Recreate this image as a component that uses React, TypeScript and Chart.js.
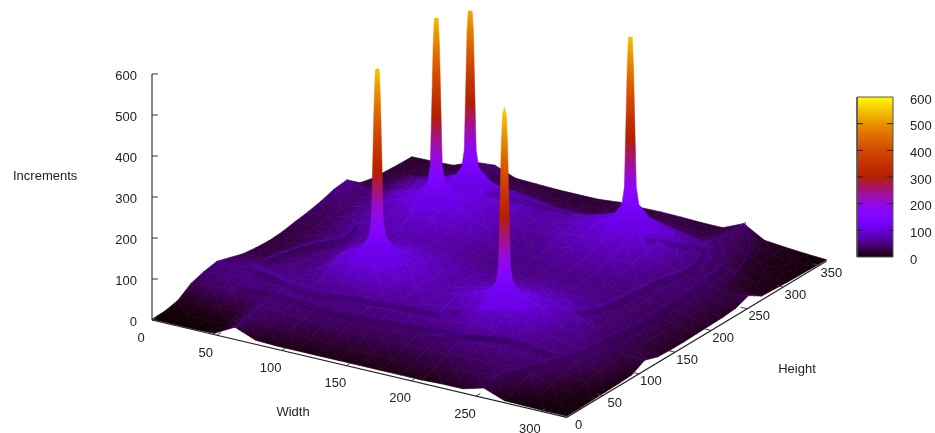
import React, { useEffect, useRef } from "react";
import { Chart, registerables } from "chart.js";

Chart.register(...registerables);

const widths = [0, 16, 32, 48, 64, 80, 96, 112, 128, 144, 160, 176, 192, 208, 224, 240, 256, 272, 288, 304, 320];
const heights = [360, 342, 324, 306, 288, 270, 252, 234, 216, 198, 180, 162, 144, 126, 108, 90, 72, 54, 36, 18, 0];
const surface = [
  [17, 18, 20, 40, 44, 24, 22, 20, 20, 20, 25, 24, 25, 24, 22, 22, 44, 15, 10, 6, 3],
  [18, 20, 24, 30, 34, 28, 28, 24, 22, 22, 24, 24, 26, 28, 26, 24, 40, 22, 10, 7, 4],
  [20, 24, 28, 32, 36, 36, 36, 34, 32, 30, 30, 32, 36, 38, 36, 34, 44, 30, 11, 8, 5],
  [22, 28, 48, 60, 68, 76, 76, 70, 62, 54, 54, 62, 72, 80, 76, 66, 54, 36, 12, 9, 6],
  [30, 32, 52, 72, 92, 112, 112, 94, 76, 68, 68, 80, 96, 114, 110, 88, 58, 44, 26, 10, 8],
  [56, 42, 52, 72, 90, 108, 110, 92, 78, 66, 68, 80, 94, 114, 102, 86, 58, 44, 32, 12, 10],
  [52, 44, 54, 80, 96, 114, 106, 88, 74, 64, 64, 74, 82, 88, 84, 76, 56, 44, 38, 22, 30],
  [42, 40, 52, 78, 96, 114, 106, 88, 74, 62, 54, 62, 70, 72, 72, 66, 52, 44, 38, 24, 18],
  [35, 34, 48, 66, 78, 88, 88, 78, 70, 60, 54, 54, 58, 60, 58, 56, 50, 44, 36, 24, 15],
  [30, 30, 42, 62, 72, 74, 74, 70, 62, 56, 52, 52, 52, 52, 52, 52, 48, 42, 34, 24, 14],
  [24, 28, 40, 50, 60, 68, 72, 70, 66, 60, 54, 52, 54, 56, 54, 52, 48, 40, 32, 24, 13],
  [22, 26, 38, 46, 60, 78, 84, 84, 76, 68, 62, 60, 64, 66, 64, 60, 52, 40, 36, 24, 12],
  [24, 28, 38, 46, 60, 90, 104, 100, 88, 74, 66, 68, 74, 78, 78, 72, 54, 42, 36, 24, 12],
  [28, 30, 42, 48, 56, 96, 115, 115, 92, 76, 66, 76, 88, 96, 94, 84, 72, 46, 36, 24, 14],
  [38, 40, 48, 50, 54, 86, 96, 96, 84, 74, 68, 80, 96, 116, 116, 92, 60, 50, 38, 26, 25],
  [48, 48, 56, 52, 54, 60, 68, 68, 66, 60, 62, 68, 76, 88, 86, 72, 58, 50, 42, 26, 8],
  [42, 46, 50, 42, 56, 54, 52, 52, 54, 54, 54, 56, 60, 70, 66, 58, 52, 44, 36, 22, 6],
  [32, 38, 42, 42, 46, 46, 44, 44, 42, 40, 42, 44, 48, 52, 50, 48, 44, 40, 28, 14, 5],
  [10, 12, 16, 18, 44, 40, 36, 34, 32, 30, 30, 30, 32, 34, 36, 38, 38, 34, 18, 8, 4],
  [3, 4, 4, 6, 40, 26, 22, 18, 16, 16, 16, 16, 18, 20, 24, 30, 34, 16, 8, 5, 3],
  [2, 2, 2, 3, 30, 10, 8, 8, 8, 8, 8, 8, 8, 8, 10, 10, 24, 5, 4, 3, 3],
];

const peakW = [102, 84, 89, 214, 212];
const peakH = [129, 243, 281, 104, 282];
const peakTop = [553, 541, 522, 568, 549];
const profileZ = [73, 92, 110, 141, 183, 312, 476, 549];
const profileR = [15, 12, 10.5, 4.7, 3.3, 2.6, 1.75, 1.1];
const SPIKE_FOOT_SHADE = 108;

const ridgeWidths = [
  [34, 59, 115, 186, 240],
  [28, 81, 127, 176],
  [32, 41, 54, 54],
  [179, 236, 260, 267, 273, 274, 263],
  [258, 268, 283, 289, 290, 287, 287],
  [191, 228, 276],
  [257, 285, 301],
  [247, 263, 274],
  [82, 115, 156],
  [215, 263],
];
const ridgeHeights = [
  [57, 61, 54, 65, 79],
  [85, 69, 78, 82],
  [97, 140, 172, 187],
  [91, 124, 153, 206, 207, 257, 293],
  [0, 42, 84, 102, 165, 239, 280],
  [42, 68, 74],
  [360, 316, 260],
  [336, 310, 271],
  [314, 313, 303],
  [298, 293],
];
const ridgeValues = [
  [45, 45, 45, 45, 45],
  [60, 60, 60, 60],
  [60, 60, 60, 85],
  [60, 60, 60, 60, 75, 60, 60],
  [40, 40, 40, 50, 40, 40, 50],
  [55, 55, 35],
  [40, 40, 40],
  [30, 30, 30],
  [45, 45, 45],
  [45, 60],
];

const widthTicks = [0, 50, 100, 150, 200, 250, 300];
const heightTicks = [0, 50, 100, 150, 200, 250, 300, 350];
const zTicks = [0, 100, 200, 300, 400, 500, 600];

const W_MAX = 320;
const H_MAX = 360;
const Z_MAX = 600;

const vx = (w: number, h: number) => 152 + 1.296 * w + 0.722 * h;
const vy = (w: number, h: number, z: number) => 320 + 0.304 * w - 0.434 * h - 0.41 * z;
const pt = (w: number, h: number, z: number) => ({ x: vx(w, h), y: vy(w, h, z) });
const depth = (w: number, h: number) => 0.304 * w - 0.434 * h;

const px = (scale: any, v: number) => {
  const p = scale ? scale.getPixelForValue(v) : NaN;
  return Number.isFinite(p) ? p : v;
};

function pal(z: number, alpha = 1) {
  const t = Math.max(0, Math.min(1, z / Z_MAX));
  const r = Math.round(255 * Math.sqrt(t));
  const g = Math.round(255 * t * t * t);
  const b = Math.round(255 * Math.max(0, Math.sin(2 * Math.PI * t)));
  return `rgba(${r},${g},${b},${alpha})`;
}

// Gouraud-like shade of one triangle: the gradient axis follows the steepest change of z on screen.
function triPaint(p: any[], zs: number[]) {
  const zlo = Math.min(...zs);
  const zhi = Math.max(...zs);
  const e1x = p[1].x - p[0].x;
  const e1y = p[1].y - p[0].y;
  const e2x = p[2].x - p[0].x;
  const e2y = p[2].y - p[0].y;
  const dz1 = zs[1] - zs[0];
  const dz2 = zs[2] - zs[0];
  const det = e1x * e2y - e1y * e2x;
  if (zhi - zlo < 0.5 || Math.abs(det) < 1e-6) return pal((zlo + zhi) / 2);
  const gx = (dz1 * e2y - dz2 * e1y) / det;
  const gy = (e1x * dz2 - e2x * dz1) / det;
  const n = gx * gx + gy * gy;
  const s = p[zs.indexOf(zlo)];
  const ex = s.x + (gx * (zhi - zlo)) / n;
  const ey = s.y + (gy * (zhi - zlo)) / n;
  return (ctx: any) => {
    const { x, y } = ctx.chart.scales;
    const g = ctx.chart.ctx.createLinearGradient(px(x, s.x), px(y, s.y), px(x, ex), px(y, ey));
    g.addColorStop(0, pal(zlo));
    g.addColorStop(0.5, pal((zlo + zhi) / 2));
    g.addColorStop(1, pal(zhi));
    return g;
  };
}

function buildMarks() {
  const marks: { key: number; ds: any }[] = [];
  for (let r = 0; r < heights.length - 1; r++) {
    for (let c = 0; c < widths.length - 1; c++) {
      const key = depth((widths[c] + widths[c + 1]) / 2, (heights[r] + heights[r + 1]) / 2);
      const corners = [[r, c], [r, c + 1], [r + 1, c + 1], [r + 1, c]];
      [[0, 1, 2], [0, 2, 3]].forEach((tri) => {
        const cs = tri.map((i) => corners[i]);
        const zs = cs.map(([a, b]) => surface[a][b]);
        const p = cs.map(([a, b]) => pt(widths[b], heights[a], surface[a][b]));
        const paint = triPaint(p, zs);
        marks.push({
          key,
          ds: { data: [...p, p[0]], fill: "shape", backgroundColor: paint, borderColor: paint, borderWidth: 0.7 },
        });
      });
    }
  }
  ridgeWidths.forEach((rw, i) => {
    const rh = ridgeHeights[i];
    const rz = ridgeValues[i];
    const mean = rz.reduce((a, b) => a + b, 0) / rz.length;
    const key = Math.max(...rw.map((w, k) => depth(w, rh[k]))) + 5;
    marks.push({
      key: key + 0.01,
      ds: { data: rw.map((w, k) => pt(w, rh[k], rz[k] + 8)), fill: false, borderColor: pal(mean + 14, 0.75), borderWidth: 1.3, tension: 0.4 },
    });
    marks.push({
      key,
      ds: { data: rw.map((w, k) => pt(w, rh[k], rz[k] - 6)), fill: false, borderColor: "rgba(30,0,60,0.24)", borderWidth: 6, tension: 0.4 },
    });
  });
  peakW.forEach((w, i) => {
    const h = peakH[i];
    const top = peakTop[i];
    const left = profileZ.map((z, k) => pt(w - profileR[k], h - 0.7 * profileR[k], Math.min(z, top)));
    const right = profileZ.map((z, k) => pt(w + profileR[k], h + 0.7 * profileR[k], Math.min(z, top))).reverse();
    const poly = [...left, pt(w, h, top), ...right, left[0]];
    const paint = (ctx: any) => {
      const y = ctx.chart.scales.y;
      const g = ctx.chart.ctx.createLinearGradient(0, px(y, vy(w, h, 0)), 0, px(y, vy(w, h, Z_MAX)));
      for (let s = 0; s <= 24; s++) g.addColorStop(s / 24, pal(Math.max(SPIKE_FOOT_SHADE, (s / 24) * Z_MAX)));
      return g;
    };
    marks.push({
      key: depth(w, h) + 12,
      ds: { data: poly, fill: "shape", backgroundColor: paint, borderColor: paint, borderWidth: 0.5 },
    });
  });
  marks.sort((a, b) => b.key - a.key);
  return marks.map((m) => m.ds);
}

const line = (data: any[], color = "#222", borderWidth = 1.2) => ({
  data, borderColor: color, borderWidth, fill: false,
});

function buildAxes() {
  const out: any[] = [];
  out.push(line([pt(0, 0, 0), pt(W_MAX, 0, 0), pt(W_MAX, H_MAX, 0)]));
  out.push(line([pt(0, 0, 0), pt(0, 0, Z_MAX)], "#333"));
  widthTicks.forEach((w) => out.push(line([pt(w, 0, 0), pt(w, 6, 0)], "#444", 1)));
  heightTicks.forEach((h) => out.push(line([pt(W_MAX, h, 0), pt(W_MAX - 5, h, 0)], "#444", 1)));
  zTicks.forEach((z) => out.push(line([pt(0, 0, z), { x: vx(0, 0) + 6, y: vy(0, 0, z) }], "#333", 1)));
  const cbY = (z: number) => 257 - (z / Z_MAX) * 160;
  const box = [{ x: 857, y: cbY(0) }, { x: 893, y: cbY(0) }, { x: 893, y: cbY(Z_MAX) }, { x: 857, y: cbY(Z_MAX) }, { x: 857, y: cbY(0) }];
  zTicks.slice(1, -1).forEach((z) => {
    out.push(line([{ x: 857, y: cbY(z) }, { x: 863, y: cbY(z) }], "#222", 1));
    out.push(line([{ x: 887, y: cbY(z) }, { x: 893, y: cbY(z) }], "#222", 1));
  });
  out.push({
    data: box, fill: "shape", borderColor: "#555", borderWidth: 1,
    backgroundColor: (ctx: any) => {
      const y = ctx.chart.scales.y;
      const g = ctx.chart.ctx.createLinearGradient(0, px(y, cbY(0)), 0, px(y, cbY(Z_MAX)));
      for (let s = 0; s <= 60; s++) g.addColorStop(s / 60, pal((s / 60) * Z_MAX));
      return g;
    },
  });
  return out;
}

const labelsPlugin = {
  id: "labels3d",
  afterDraw(chart: any) {
    const { ctx, scales } = chart;
    const X = (v: number) => scales.x.getPixelForValue(v);
    const Y = (v: number) => scales.y.getPixelForValue(v);
    ctx.save();
    ctx.font = "13px 'Liberation Sans'";
    ctx.fillStyle = "#222";
    ctx.textBaseline = "middle";
    ctx.textAlign = "center";
    widthTicks.forEach((w) => ctx.fillText(String(w), X(vx(w, 0) - 11), Y(vy(w, 0, 0) + 18)));
    heightTicks.forEach((h) => ctx.fillText(String(h), X(vx(W_MAX, h) + 12), Y(vy(W_MAX, h, 0) + 8)));
    ctx.textAlign = "right";
    zTicks.forEach((z) => ctx.fillText(String(z), X(137), Y(vy(0, 0, z) + 2)));
    ctx.textAlign = "left";
    zTicks.forEach((z) => ctx.fillText(String(z), X(910), Y(260 - (z / Z_MAX) * 160)));
    ctx.fillText("Increments", X(13), Y(176));
    ctx.textAlign = "center";
    ctx.fillText("Width", X(293), Y(412));
    ctx.fillText("Height", X(797), Y(369));
    ctx.restore();
  },
};

export default function App() {
  const ref = useRef<HTMLCanvasElement>(null);
  useEffect(() => {
    const chart = new Chart(ref.current as HTMLCanvasElement, {
      type: "scatter",
      data: { datasets: [...buildAxes(), ...buildMarks()].map((d) => ({ showLine: true, pointRadius: 0, tension: 0, ...d })) },
      options: {
        animation: false,
        responsive: false,
        events: [],
        layout: { padding: 0 },
        scales: {
          x: { type: "linear", min: 0, max: 935, display: false },
          y: { type: "linear", min: 0, max: 433, reverse: true, display: false },
        },
        plugins: { legend: { display: false }, tooltip: { enabled: false }, title: { display: false } },
      },
      plugins: [labelsPlugin],
    } as any);
    return () => chart.destroy();
  }, []);
  return <canvas ref={ref} width={935} height={433} style={{ position: "absolute", left: 0, top: 0 }} />;
}
